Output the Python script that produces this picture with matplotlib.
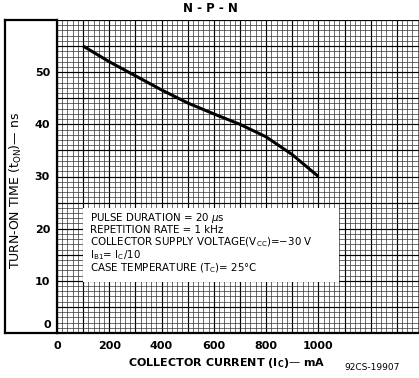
import matplotlib
matplotlib.use("Agg")
import matplotlib.pyplot as plt
from matplotlib.ticker import MultipleLocator, FuncFormatter
from matplotlib.patches import Rectangle
from matplotlib.lines import Line2D

# ---- data ----
collector_current_mA = [100, 200, 300, 400, 500, 600, 700, 800, 900, 1000]
turn_on_time_ns = [55, 52, 49.3, 46.6, 44.1, 42.0, 40.0, 37.6, 34.2, 30]
x_tick_labels = [0, 200, 400, 600, 800, 1000]
y_tick_labels = [0, 10, 20, 30, 40, 50]
title = "N - P - N"
x_label = r"COLLECTOR CURRENT $\mathbf{(I_C)}$— mA"
y_label = r"TURN-ON TIME $(\mathrm{t_{ON}})$— ns"
conditions = [
    r"PULSE DURATION = 20 $\mu$s",
    "REPETITION RATE = 1 kHz",
    r"COLLECTOR SUPPLY VOLTAGE$(\mathrm{V_{CC}})$=−30 V",
    r"$\mathrm{I_{B1}}$= $\mathrm{I_C}$/10",
    r"CASE TEMPERATURE $(\mathrm{T_C})$= 25°C",
]
code = "92CS-19907"

plt.rcParams['font.family'] = ['DejaVu Sans']
plt.rcParams['mathtext.fontset'] = 'dejavusans'

W, H = 419, 378
fig = plt.figure(figsize=(W / 100, H / 100), dpi=100)
L, R, T, B = 57, 419, 20, 333
ax = fig.add_axes([L / W, 1 - B / H, (R - L) / W, (B - T) / H])
ax.set_xlim(0, 1385)
ax.set_ylim(0, 60)

ax.xaxis.set_major_locator(MultipleLocator(100))
ax.xaxis.set_minor_locator(MultipleLocator(20))
ax.yaxis.set_major_locator(MultipleLocator(5))
ax.yaxis.set_minor_locator(MultipleLocator(1))

ax.xaxis.set_major_formatter(FuncFormatter(
    lambda v, p: f"{int(round(v))}" if int(round(v)) in x_tick_labels else ""))
ax.yaxis.set_major_formatter(FuncFormatter(
    lambda v, p: f"{int(round(v))}" if int(round(v)) in y_tick_labels and int(round(v)) != 0 else ""))

ax.grid(which='major', color='black', linewidth=0.85)
ax.grid(which='minor', color='#333333', linewidth=0.5)
ax.set_axisbelow(True)
ax.tick_params(which='both', length=0)
ax.tick_params(axis='x', pad=6, labelsize=8)
ax.tick_params(axis='y', pad=5, labelsize=8)
for lab in ax.get_xticklabels() + ax.get_yticklabels():
    lab.set_fontweight('bold')
# the zero label on the y axis sits slightly above the axis line
ax.annotate(str(y_tick_labels[0]), xy=(0, y_tick_labels[0]), xytext=(-4, 6),
            textcoords='offset points', ha='right', va='center',
            fontsize=8, fontweight='bold', annotation_clip=False)

for s in ['top', 'right']:
    ax.spines[s].set_visible(False)
ax.spines['left'].set_linewidth(1.6)
ax.spines['bottom'].set_linewidth(1.6)

# conditions box
ax.add_patch(Rectangle((100, 9.8), 980, 14.2, facecolor='white', edgecolor='none', zorder=3))
ys = [22.1, 19.8, 17.5, 15.0, 12.5]
for txt, yy in zip(conditions, ys):
    ax.text(125, yy, txt, fontsize=7.4, va='center', ha='left', zorder=4)

# curve
ax.plot(collector_current_mA, turn_on_time_ns, color='black', linewidth=2.2,
        solid_capstyle='butt', zorder=5)

# outer frame around y-label region
fx = lambda px: px / W
fy = lambda py: 1 - py / H
fig.add_artist(Line2D([fx(5), fx(L)], [fy(T), fy(T)], color='black', lw=1.6))
fig.add_artist(Line2D([fx(5), fx(5)], [fy(T), fy(B)], color='black', lw=1.6))
fig.add_artist(Line2D([fx(5), fx(L)], [fy(B), fy(B)], color='black', lw=1.6))

ax.text(650, -5.8, x_label, fontsize=8, fontweight='bold', ha='center', va='center')
fig.text(fx(16), fy(190), y_label, fontsize=9, rotation=90,
         ha='center', va='center')
fig.text(fx(210), fy(8), title, fontsize=8.5, fontweight='bold', ha='center', va='center')
fig.text(fx(372), fy(368), code, fontsize=6.5, ha='center', va='center')

fig.savefig("out.png", dpi=100)
